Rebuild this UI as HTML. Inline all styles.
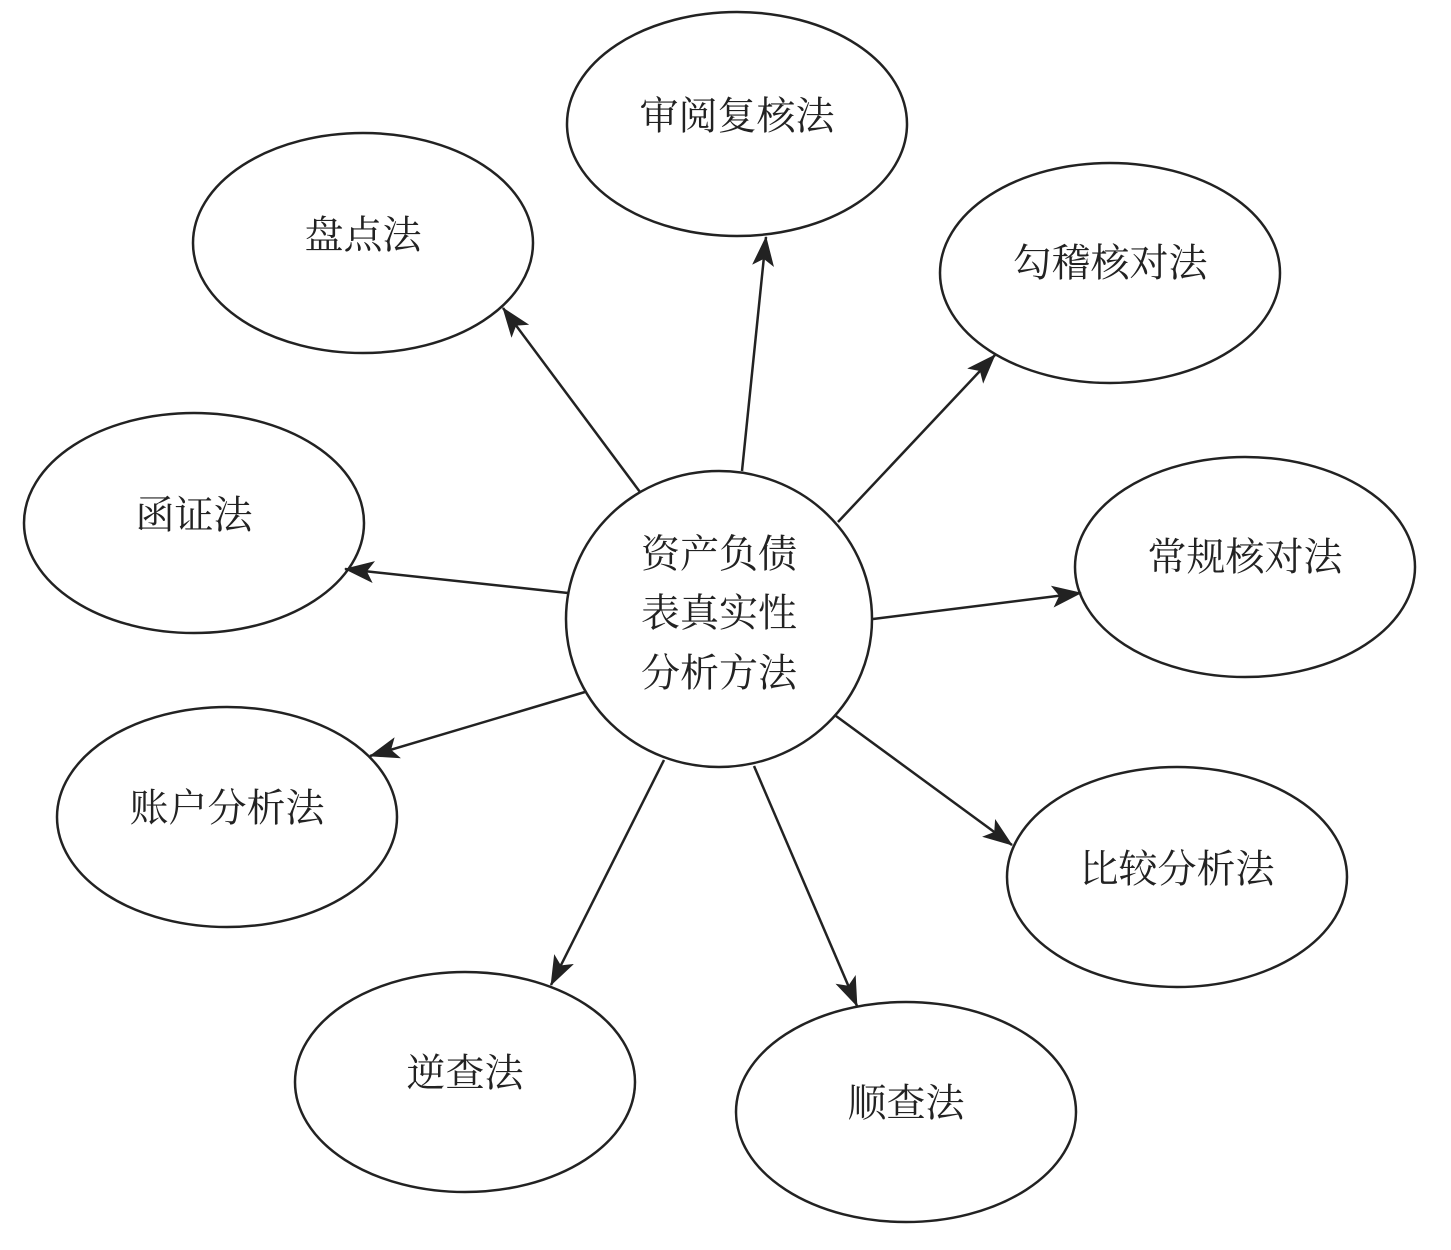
<!DOCTYPE html>
<html><head><meta charset="utf-8"><style>
html,body{margin:0;padding:0;background:#fff;}
svg{display:block;}
text{font-family:"Liberation Serif","Noto Serif CJK SC",serif;font-size:39px;fill:#222;text-anchor:middle;dominant-baseline:central;}
</style></head><body>
<svg width="1451" height="1250" viewBox="0 0 1451 1250" xmlns="http://www.w3.org/2000/svg">
<defs>
<marker id="b" viewBox="0 0 30 22" refX="29" refY="11" markerWidth="30" markerHeight="22" orient="auto" markerUnits="userSpaceOnUse"><path d="M0,0 L30,11 L0,22 L7,11 Z" fill="#222"/></marker></defs>
<g fill="none" stroke="#222" stroke-width="2.5">
<ellipse cx="737" cy="124" rx="170" ry="112"/>
<ellipse cx="363" cy="243" rx="170" ry="110"/>
<ellipse cx="1110" cy="273" rx="170" ry="110"/>
<ellipse cx="194" cy="523" rx="170" ry="110"/>
<ellipse cx="1245" cy="567" rx="170" ry="110"/>
<ellipse cx="719" cy="619" rx="153" ry="148"/>
<ellipse cx="227" cy="817" rx="170" ry="110"/>
<ellipse cx="1177" cy="877" rx="170" ry="110"/>
<ellipse cx="465" cy="1082" rx="170" ry="110"/>
<ellipse cx="906" cy="1112" rx="170" ry="110"/>
<g marker-end="url(#b)">
<line x1="640" y1="492" x2="503" y2="308"/>
<line x1="742" y1="471" x2="766" y2="237"/>
<line x1="838" y1="522" x2="995" y2="355"/>
<line x1="568" y1="593" x2="345" y2="569"/>
<line x1="873" y1="619" x2="1081" y2="593"/>
<line x1="585" y1="692" x2="370" y2="756"/>
<line x1="836" y1="716" x2="1012" y2="845"/>
<line x1="664" y1="760" x2="551" y2="985"/>
<line x1="754" y1="766" x2="857" y2="1006"/>
</g></g>
<text x="737" y="117">审阅复核法</text>
<text x="363" y="236">盘点法</text>
<text x="1110" y="264">勾稽核对法</text>
<text x="194" y="516">函证法</text>
<text x="1245" y="558">常规核对法</text>
<text x="719" y="555">资产负债</text>
<text x="719" y="614">表真实性</text>
<text x="719" y="674">分析方法</text>
<text x="227" y="809">账户分析法</text>
<text x="1177" y="870">比较分析法</text>
<text x="465" y="1074">逆查法</text>
<text x="906" y="1104">顺查法</text>
</svg>
</body></html>
